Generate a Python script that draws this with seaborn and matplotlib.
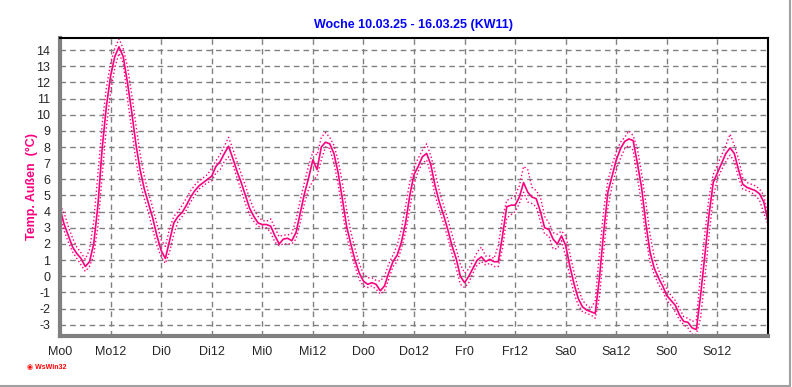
import numpy as np
import pandas as pd
import matplotlib
matplotlib.use('Agg')
import matplotlib.pyplot as plt
from matplotlib.lines import Line2D
from matplotlib.ticker import MultipleLocator
import seaborn as sns

# hourly values, Mo 0:00 .. So 24:00
hours = list(range(169))
temp_avg = [4.2, 3.2, 2.5, 1.8, 1.4, 1.1, 0.6, 0.9, 2.0, 4.4, 7.9, 10.5, 12.4, 13.6, 14.2, 13.6, 12.0, 10.2, 8.2, 6.6,
            5.4, 4.5, 3.6, 2.5, 1.6, 1.1, 2.2, 3.3, 3.7, 3.95, 4.4, 4.9, 5.3, 5.6, 5.8, 6.0, 6.2, 6.8, 7.1, 7.6,
            8.05, 7.3, 6.5, 5.8, 5.0, 4.2, 3.7, 3.3, 3.2, 3.2, 3.1, 2.5, 2.0, 2.3, 2.35, 2.2, 2.7, 3.9, 5.1, 6.1,
            7.2, 6.6, 8.0, 8.3, 8.2, 7.6, 6.4, 4.8, 3.1, 2.0, 1.0, 0.2, -0.3, -0.5, -0.4, -0.5, -0.9, -0.6, 0.2, 0.9,
            1.3, 2.1, 3.3, 5.0, 6.3, 6.8, 7.4, 7.6, 6.9, 5.6, 4.6, 3.8, 2.9, 1.9, 1.1, 0.0, -0.4, 0.0, 0.5, 1.0,
            1.2, 0.9, 1.05, 0.9, 0.9, 2.5, 4.3, 4.4, 4.4, 4.9, 5.8, 5.2, 4.9, 4.8, 4.0, 3.0, 2.9, 2.3, 2.0, 2.5,
            1.9, 0.6, -0.5, -1.4, -1.9, -2.1, -2.2, -2.3, -0.1, 2.7, 5.2, 6.2, 7.2, 7.9, 8.35, 8.5, 8.4, 7.0, 5.5, 3.3,
            1.5, 0.5, -0.1, -0.6, -1.2, -1.5, -1.8, -2.4, -2.8, -2.85, -3.2, -3.3, -1.2, 1.25, 3.8, 5.8, 6.4, 7.0, 7.6, 7.95,
            7.6, 6.6, 5.7, 5.5, 5.4, 5.3, 5.1, 4.6, 3.4]
temp_max = [4.4, 3.9, 3.05, 2.35, 1.8, 1.45, 1.05, 1.65, 3.4, 6.35, 9.4, 11.65, 13.2, 14.1, 14.7, 14.1, 13.0, 11.3, 9.4, 7.6,
            6.2, 5.15, 4.25, 3.25, 2.25, 1.85, 2.95, 3.7, 4.0, 4.4, 4.85, 5.3, 5.65, 5.9, 6.1, 6.3, 6.7, 7.15, 7.55, 8.05,
            8.6, 7.9, 7.1, 6.35, 5.6, 4.8, 4.15, 3.7, 3.45, 3.4, 3.55, 3.0, 2.45, 2.55, 2.55, 2.65, 3.5, 4.7, 5.8, 6.85,
            7.7, 7.5, 8.6, 8.9, 8.6, 8.1, 7.2, 5.8, 4.15, 2.75, 1.7, 0.8, 0.15, -0.1, -0.1, -0.25, -0.3, 0.0, 0.75, 1.3,
            1.9, 2.9, 4.35, 5.85, 6.75, 7.3, 7.8, 8.2, 7.45, 6.45, 5.3, 4.4, 3.55, 2.6, 1.7, 0.75, 0.2, 0.45, 0.95, 1.5,
            1.8, 1.25, 1.25, 1.1, 1.9, 3.6, 4.7, 4.8, 5.0, 5.6, 6.8, 6.6, 5.5, 5.3, 4.9, 3.7, 3.3, 2.7, 2.6, 2.8,
            2.5, 1.4, 0.2, -0.8, -1.5, -1.8, -2.0, -1.5, 1.4, 4.1, 5.9, 6.9, 7.7, 8.3, 8.6, 9.0, 8.7, 7.9, 6.4, 4.6,
            2.6, 1.2, 0.4, -0.2, -0.8, -1.2, -1.5, -2.0, -2.5, -2.6, -2.8, -2.7, 0.2, 2.6, 4.9, 6.3, 6.9, 7.5, 8.1, 8.8,
            8.1, 7.3, 6.1, 5.8, 5.7, 5.6, 5.4, 5.0, 3.7]
temp_min = [3.9, 2.8, 2.1, 1.5, 1.1, 0.7, 0.3, 0.6, 1.3, 3.1, 6.2, 9.2, 11.4, 12.9, 13.8, 13.2, 11.0, 9.1, 7.2, 5.8,
            4.8, 3.9, 2.9, 1.9, 1.2, 0.8, 1.5, 2.6, 3.4, 3.7, 4.1, 4.6, 5.0, 5.4, 5.6, 5.8, 5.9, 6.4, 6.6, 7.1,
            7.4, 6.9, 6.1, 5.3, 4.5, 3.8, 3.4, 3.1, 3.0, 3.0, 2.7, 2.1, 1.9, 2.0, 2.0, 2.0, 2.3, 3.3, 4.5, 5.4,
            5.9, 6.2, 7.2, 8.0, 7.9, 7.0, 5.7, 4.0, 2.5, 1.5, 0.6, -0.2, -0.6, -0.7, -0.6, -0.8, -1.1, -0.9, -0.2, 0.6,
            0.9, 1.7, 2.7, 4.2, 5.7, 6.5, 7.0, 7.2, 6.3, 5.0, 4.1, 3.3, 2.4, 1.4, 0.5, -0.5, -0.7, -0.4, 0.2, 0.7,
            0.9, 0.7, 0.8, 0.6, 0.6, 1.7, 3.6, 3.8, 4.0, 4.5, 5.2, 4.6, 4.5, 4.3, 3.4, 2.6, 2.5, 1.7, 1.7, 2.2,
            1.2, 0.0, -1.1, -1.8, -2.2, -2.3, -2.4, -2.6, -1.3, 1.5, 4.2, 5.6, 6.6, 7.3, 7.9, 8.1, 7.8, 6.1, 4.5, 2.4,
            0.9, 0.1, -0.5, -0.9, -1.5, -1.8, -2.2, -2.7, -3.0, -3.2, -3.6, -3.6, -2.6, -0.2, 2.5, 4.9, 6.0, 6.6, 7.1, 7.5,
            7.1, 6.1, 5.4, 5.3, 5.2, 5.0, 4.7, 3.9, 3.2]

tick_hours = list(range(0, 169, 12))
tick_labels = ['Mo0', 'Mo12', 'Di0', 'Di12', 'Mi0', 'Mi12', 'Do0', 'Do12',
               'Fr0', 'Fr12', 'Sa0', 'Sa12', 'So0', 'So12', '']
y_ticks = list(range(-3, 15))

df = pd.DataFrame({'h': hours, 'avg': temp_avg, 'max': temp_max, 'min': temp_min})

sns.set_style('white')
plt.rcParams['font.family'] = ['Liberation Sans', 'DejaVu Sans']

pink = '#ff0080'
grey = '#808080'

fig = plt.figure(figsize=(7.92, 3.87), dpi=100)
ax = fig.add_axes([60 / 792, 51 / 387, 708 / 792, 298 / 387])

sns.lineplot(data=df, x='h', y='max', ax=ax, color=pink, linestyle=':', linewidth=1.0)
sns.lineplot(data=df, x='h', y='min', ax=ax, color=pink, linestyle=':', linewidth=1.0)
sns.lineplot(data=df, x='h', y='avg', ax=ax, color=pink, linewidth=1.2)

ax.set_xlim(0, 168)
ax.set_ylim(-3.7, 14.75)
ax.set_xticks(tick_hours)
ax.set_xticklabels(tick_labels, fontsize=9)
ax.xaxis.set_minor_locator(MultipleLocator(3))
ax.set_yticks(y_ticks)
ax.set_yticklabels([str(v) for v in y_ticks], fontsize=9)
ax.yaxis.set_minor_locator(MultipleLocator(0.25))

ax.grid(True, which='major', color=grey, linestyle=(0, (4, 3)), linewidth=1)
ax.set_axisbelow(True)

ax.tick_params(axis='both', which='major', direction='out', length=4, width=1, color=grey, pad=3)
ax.tick_params(axis='both', which='minor', direction='out', length=2, width=1, color=grey)
ax.tick_params(axis='x', pad=3)

for side in ['left', 'bottom']:
    ax.spines[side].set_color(grey)
    ax.spines[side].set_linewidth(3)
for side in ['top', 'right']:
    ax.spines[side].set_color('black')
    ax.spines[side].set_linewidth(1.5)

ax.set_xlabel('')
ax.set_ylabel('Temp. Außen  (°C)', color=pink, fontsize=9, fontweight='bold', labelpad=-1)
ax.set_title('Woche 10.03.25 - 16.03.25 (KW11)', color='#0000ff', fontsize=9, fontweight='bold', pad=7)

# frame of the window
fig.add_artist(Line2D([790 / 792, 790 / 792], [1.5 / 387, 1], color='#a0a0a0', linewidth=1.5))
fig.add_artist(Line2D([0, 790 / 792], [1.5 / 387, 1.5 / 387], color='#a0a0a0', linewidth=1.5))
fig.text(27 / 792, 1 - 368 / 387, '\u25c9 WsWin32', color='red', fontsize=5, fontweight='bold')

plt.savefig('out.png', dpi=100)
